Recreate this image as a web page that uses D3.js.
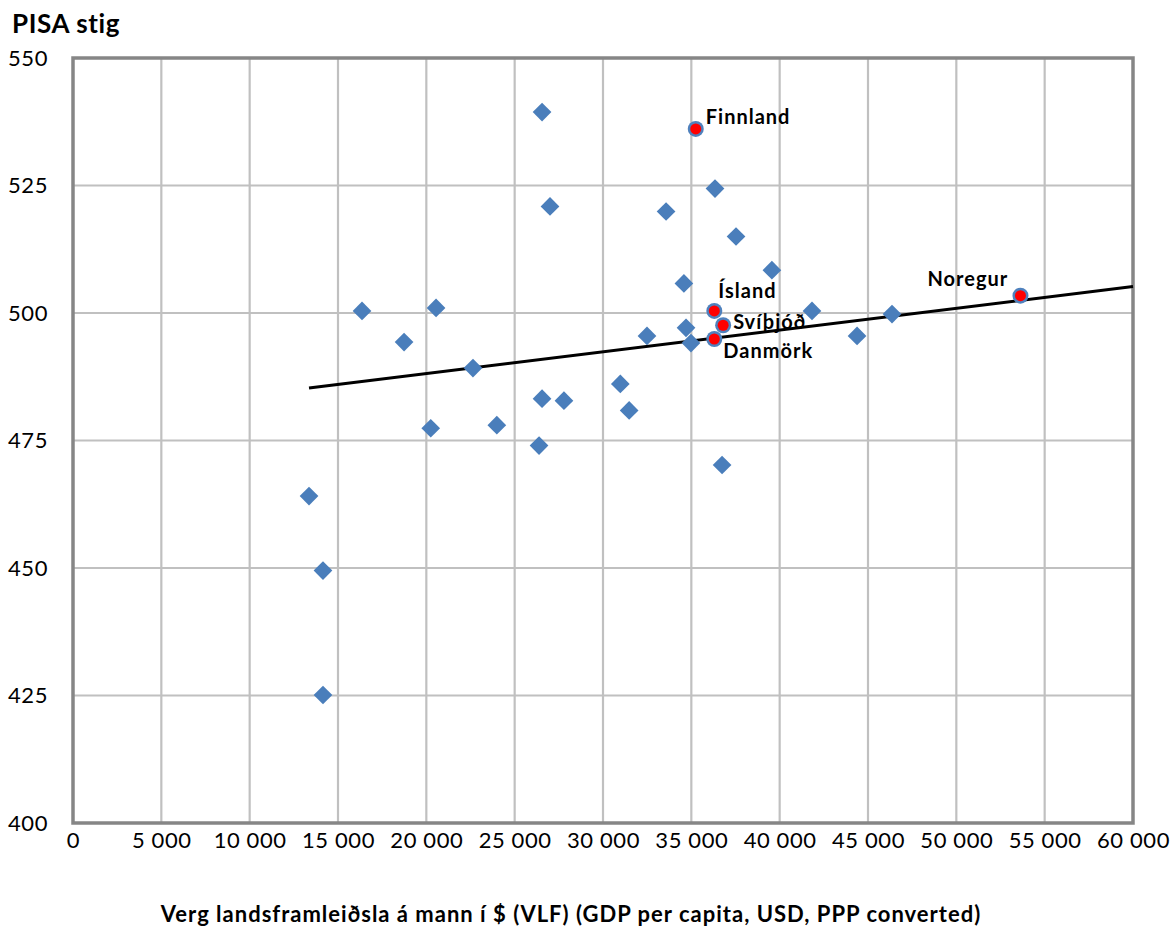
<!DOCTYPE html>
<html><head><meta charset="utf-8">
<script src="https://cdn.jsdelivr.net/npm/d3@7"></script>
<style>body{margin:0;background:#fff;} svg{display:block;font-family:Lato,"Open Sans",sans-serif;}</style>
</head><body><svg id="c" width="1174" height="928"></svg>
<script>
// data
const gdp = [26550,36340,27000,33570,37530,39560,34580,16360,20550,41830,46360,18740,32490,34700,34980,44380,22640,30980,26550,27790,31480,20250,23990,26380,36740,13360,14150,14150];
const pisa = [539.4,524.4,520.9,519.9,515.0,508.4,505.8,500.4,501.0,500.4,499.8,494.3,495.5,497.1,494.1,495.5,489.2,486.1,483.2,482.8,480.9,477.4,478.0,474.0,470.2,464.1,449.5,425.1];
const nordicNames = ["Finnland","Ísland","Svíþjóð","Danmörk","Noregur"];
const nordicGdp = [35250,36300,36800,36300,53630];
const nordicPisa = [536.1,500.4,497.6,494.9,503.4];
const trendX = [13360,60000];
const trendY = [485.3,505.2];
const xTicks = [0,5000,10000,15000,20000,25000,30000,35000,40000,45000,50000,55000,60000];
const yTicks = [400,425,450,475,500,525,550];
const yTitle = "PISA stig";
const xTitle = "Verg landsframleiðsla á mann í $ (VLF) (GDP per capita, USD, PPP converted)";

const svg = d3.select("#c");
const L=73,R=1133,T=58,B=823;
const x = d3.scaleLinear().domain([0,60000]).range([L,R]);
const y = d3.scaleLinear().domain([400,550]).range([B,T]);
const fmt = v => v===0 ? "0" : d3.format(",")(v).replace(/,/g," ");

// grid
svg.append("g").selectAll("line").data(xTicks.slice(1,-1)).join("line")
  .attr("x1",d=>x(d)).attr("x2",d=>x(d)).attr("y1",T).attr("y2",B)
  .attr("stroke","#c0c0c0").attr("stroke-width",2.2);
svg.append("g").selectAll("line").data(yTicks.slice(1,-1)).join("line")
  .attr("y1",d=>y(d)).attr("y2",d=>y(d)).attr("x1",L).attr("x2",R)
  .attr("stroke","#c0c0c0").attr("stroke-width",2.2);
// frame
svg.append("rect").attr("x",L).attr("y",T).attr("width",R-L).attr("height",B-T)
  .attr("fill","none").attr("stroke","#868686").attr("stroke-width",3.5);

// axes labels via d3 axes
const ya = svg.append("g").attr("transform",`translate(${L},0)`)
  .call(d3.axisLeft(y).tickValues(yTicks).tickSize(0).tickPadding(25).tickFormat(d=>d));
ya.select(".domain").remove();
ya.selectAll("text").attr("font-size",22).attr("fill","#000").attr("font-family","Lato").attr("letter-spacing",0.6);
const xa = svg.append("g").attr("transform",`translate(0,${B})`)
  .call(d3.axisBottom(x).tickValues(xTicks).tickSize(0).tickPadding(9).tickFormat(fmt));
xa.select(".domain").remove();
xa.selectAll("text").attr("font-size",22).attr("fill","#000").attr("font-family","Lato").attr("letter-spacing",0.6);

svg.append("text").attr("x",12).attr("y",33).text(yTitle)
  .attr("font-size",26).attr("font-weight","bold").attr("letter-spacing",0.6);
svg.append("text").attr("x",(L+R)/2-32).attr("y",922).attr("text-anchor","middle").text(xTitle)
  .attr("font-size",22).attr("font-weight","bold").attr("letter-spacing",1);

// trend line
svg.append("line").attr("x1",x(trendX[0])).attr("y1",y(trendY[0])).attr("x2",x(trendX[1])).attr("y2",y(trendY[1]))
  .attr("stroke","#000").attr("stroke-width",3);

// diamonds
const sym = d3.symbol().type(d3.symbolSquare).size(175);
svg.append("g").selectAll("path").data(gdp.map((g,i)=>[g,pisa[i]])).join("path")
  .attr("d",sym).attr("fill","#4a7ebb")
  .attr("transform",d=>`translate(${x(d[0])},${y(d[1])}) rotate(45)`);

// nordic
const nd = nordicNames.map((n,i)=>({n,g:nordicGdp[i],p:nordicPisa[i]}));
const ng = svg.append("g");
ng.selectAll("circle.o").data(nd).join("circle").attr("class","o")
  .attr("cx",d=>x(d.g)).attr("cy",d=>y(d.p)).attr("r",8).attr("fill","#4f81bd");
ng.selectAll("circle.i").data(nd).join("circle").attr("class","i")
  .attr("cx",d=>x(d.g)).attr("cy",d=>y(d.p)).attr("r",5.5).attr("fill","#ff0000");
const off = {"Finnland":[10,-5],"Ísland":[4,-13],"Svíþjóð":[10,4],"Danmörk":[9,19],"Noregur":[-93,-10]};
ng.selectAll("text").data(nd).join("text")
  .attr("x",d=>x(d.g)+off[d.n][0]).attr("y",d=>y(d.p)+off[d.n][1])
  .text(d=>d.n).attr("font-size",20).attr("font-weight","bold").attr("letter-spacing",1);
</script></body></html>
